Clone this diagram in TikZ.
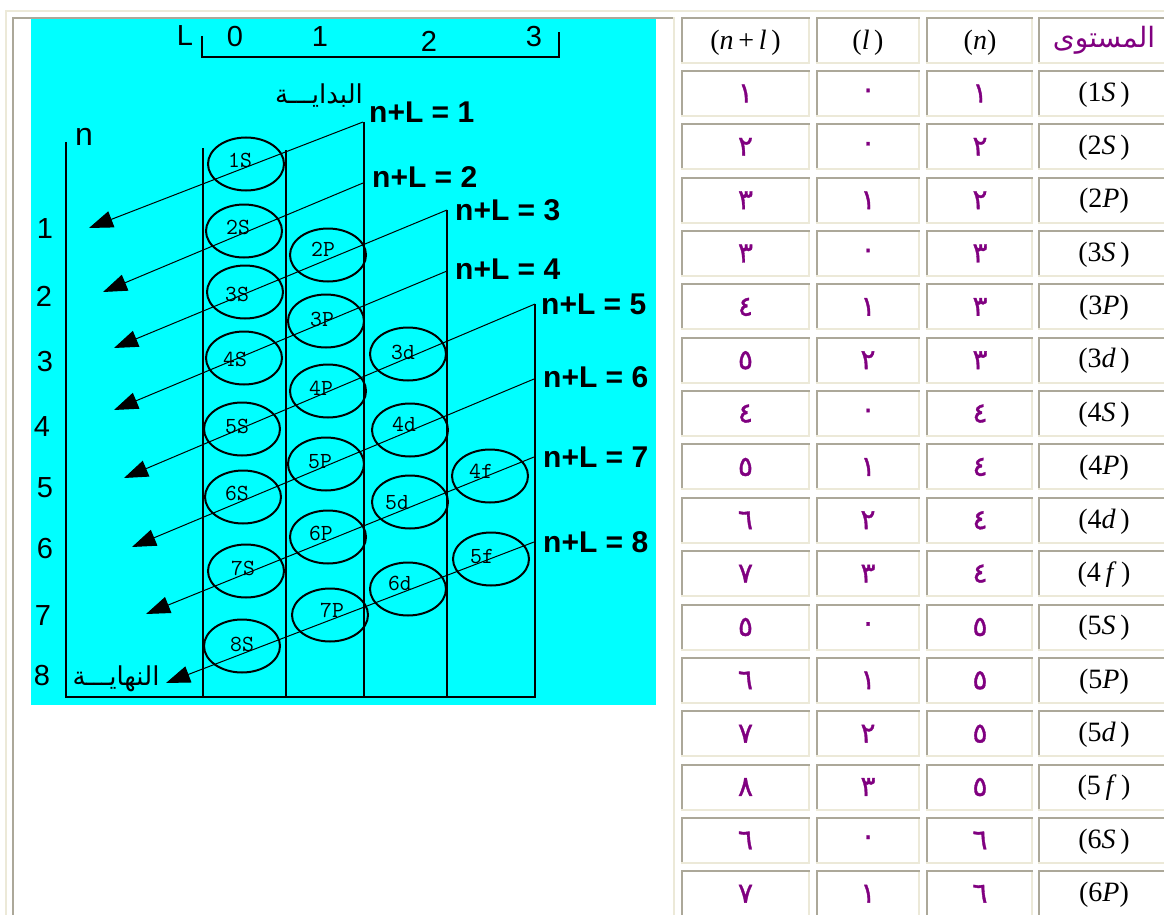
\documentclass[tikz,border=0pt]{standalone}
\usepackage{fontspec}
\setmainfont{Liberation Serif}
\newfontfamily\sansf{Liberation Sans}
\newfontfamily\arabicfont[Script=Arabic]{DejaVu Sans}
\newfontfamily\arabicdig[Script=Arabic,FakeBold=1.2]{DejaVu Sans}
\TeXXeTstate=1
\usetikzlibrary{shapes.geometric,arrows.meta}
\definecolor{cyanbg}{HTML}{00FFFF}
\definecolor{bgray}{HTML}{ACA899}
\definecolor{bbeige}{HTML}{ECE9D8}
\definecolor{purp}{HTML}{800080}
\begin{document}
\begin{tikzpicture}[x=1pt,y=-1pt,
  orb/.style={ellipse, draw, line width=2pt, minimum width=76pt, minimum height=53pt, inner sep=0pt},
  orbtxt/.style={font=\ttfamily\fontsize{23pt}{23pt}\selectfont, inner sep=0pt},
  colline/.style={line width=2pt},
  axislbl/.style={font=\sansf\fontsize{29pt}{29pt}\selectfont, inner sep=0pt},
  sumlbl/.style={font=\sansf\bfseries\fontsize{30pt}{30pt}\selectfont, inner sep=0pt, anchor=west},
  arabl/.style={font=\arabicfont\fontsize{26pt}{26pt}\selectfont, inner sep=0pt},
  arr/.style={line width=1pt, -{Triangle[length=24pt,width=17pt]}},
  lvl/.style={font=\rmfamily\fontsize{28pt}{28pt}\selectfont, inner sep=0pt},
  hdr/.style={font=\rmfamily\fontsize{28pt}{28pt}\selectfont, inner sep=0pt},
  adig/.style={font=\arabicdig\fontsize{28pt}{28pt}\selectfont, text=purp, inner sep=0pt},
  ahdr/.style={font=\arabicfont\fontsize{28pt}{28pt}\selectfont, text=purp, inner sep=0pt}
]
\useasboundingbox (0,0) rectangle (1164,915);
\clip (0,0) rectangle (1164,915);
\fill[white] (0,0) rectangle (1164,915);
% outer frame
\fill[bbeige] (5,10) rectangle (1164,12);
\fill[bbeige] (5,10) rectangle (7,915);
% left cell
\fill[bgray] (12,17) rectangle (675,19);
\fill[bgray] (12,17) rectangle (14,915);
\fill[bbeige] (673,17) rectangle (675,915);
% cyan picture
\fill[cyanbg] (31,19) rectangle (656,705);

% bracket on top
\draw[line width=1.7pt] (202,36) -- (202,57) -- (559,57) -- (559,32);
\node[axislbl] (Ltop) at (185,36) {L};
\node[axislbl] (l0) at (235,37) {0};
\node[axislbl] (l1) at (320,37) {1};
\node[axislbl] (l2) at (429,41) {2};
\node[axislbl] (l3) at (534,37) {3};
\node[axislbl, font=\sansf\fontsize{32pt}{32pt}\selectfont] (nlab) at (84,137) {n};
\node[axislbl] (k1) at (45,229) {1};
\node[axislbl] (k2) at (44,296) {2};
\node[axislbl] (k3) at (45,362) {3};
\node[axislbl] (k4) at (42,427) {4};
\node[axislbl] (k5) at (45,488) {5};
\node[axislbl] (k6) at (45,549) {6};
\node[axislbl] (k7) at (43,616) {7};
\node[axislbl] (k8) at (42,676) {8};

% column lines
\draw[colline] (66,142) -- (66,697) -- (535,697) -- (535,304);
\draw[colline] (203,148) -- (203,697);
\draw[colline] (285.5,150) -- (285.5,697);
\draw[colline] (363.5,122) -- (363.5,697);
\draw[colline] (447,210) -- (447,697);

% orbitals
\foreach \nm/\x/\y/\tx/\ty in {1S/246/164/240/160, 2S/244/231/238/227, 3S/245/292/237/294, 4S/244/358/235/359,
  5S/242/429/237/426, 6S/243/497/237/493, 7S/246/571/243/568, 8S/242/646/242/644,
  2P/328/255/323/249, 3P/326/321/322/319, 4P/328/391/321/388, 5P/326/464/320/462, 6P/328/537/321/533, 7P/330/615/332/610,
  3d/408/354/403/352, 4d/410/430/404/424, 5d/410/502/397/503, 6d/408/589/400/583,
  4f/490/476/481/471, 5f/491/559/482/557}{
  \node[orb] (o\nm) at (\x,\y) {};
  \node[orbtxt] (t\nm) at (\tx,\ty) {\nm};
}

% diagonal arrows
\coordinate (a1s) at (363,122); \coordinate (a1e) at (89,228);
\coordinate (a2s) at (363,183); \coordinate (a2e) at (103,292);
\coordinate (a3s) at (447,210); \coordinate (a3e) at (114,348);
\coordinate (a4s) at (447,271); \coordinate (a4e) at (114,410);
\coordinate (a5s) at (535,304); \coordinate (a5e) at (124,478);
\coordinate (a6s) at (534,379); \coordinate (a6e) at (132,547);
\coordinate (a7s) at (534,457); \coordinate (a7e) at (146,614);
\coordinate (a8s) at (534,542); \coordinate (a8e) at (166,683);
\foreach \k in {1,...,8}{ \draw[arr] (a\k s) -- (a\k e); }

% n+L labels
\node[sumlbl] (s1) at (369,112.5) {n+L = 1};
\node[sumlbl] (s2) at (372,177) {n+L = 2};
\node[sumlbl] (s3) at (455,210) {n+L = 3};
\node[sumlbl] (s4) at (455,269) {n+L = 4};
\node[sumlbl] (s5) at (541,304) {n+L = 5};
\node[sumlbl] (s6) at (543,377.5) {n+L = 6};
\node[sumlbl] (s7) at (543,457) {n+L = 7};
\node[sumlbl] (s8) at (543,542) {n+L = 8};

\node[arabl] (start) at (319,96) {\beginR البدايـــة\endR};
\node[arabl] (finish) at (116,679) {\beginR النهايـــة\endR};

% table cells
\foreach \xa/\xb in {681/810,816/920,926/1033,1038/1172}{
  \foreach \r in {0,...,16}{
    \pgfmathsetmacro{\ya}{\r==0 ? 17 : 70+53.35*(\r-1)}
    \pgfmathsetmacro{\yb}{\r==0 ? 64 : \ya+47}
    \fill[bgray] (\xa,\ya) rectangle (\xb,\ya+2);
    \fill[bgray] (\xa,\ya) rectangle (\xa+2,\yb);
    \fill[bbeige] (\xa,\yb-2) rectangle (\xb,\yb);
    \fill[bbeige] (\xb-2,\ya+2) rectangle (\xb,\yb);
  }
}
% header
\node[hdr] (h1) at (745.5,43) {(\textit{n}\,+\,\textit{l}\,)};
\node[hdr] (h2) at (868,43) {(\textit{l}\,)};
\node[hdr] (h3) at (980,43) {(\textit{n})};
\node[ahdr] (h4) at (1104,40) {\beginR المستوى\endR};
% rows
\foreach \lv/\nn/\ll/\ss [count=\i from 0] in {
{(1\textit{S}\,)}/١/٠/١,
{(2\textit{S}\,)}/٢/٠/٢,
{(2\textit{P})}/٢/١/٣,
{(3\textit{S}\,)}/٣/٠/٣,
{(3\textit{P})}/٣/١/٤,
{(3\textit{d}\,)}/٣/٢/٥,
{(4\textit{S}\,)}/٤/٠/٤,
{(4\textit{P})}/٤/١/٥,
{(4\textit{d}\,)}/٤/٢/٦,
{(4\,\textit{f}\,)}/٤/٣/٧,
{(5\textit{S}\,)}/٥/٠/٥,
{(5\textit{P})}/٥/١/٦,
{(5\textit{d}\,)}/٥/٢/٧,
{(5\,\textit{f}\,)}/٥/٣/٨,
{(6\textit{S}\,)}/٦/٠/٦,
{(6\textit{P})}/٦/١/٧}{
  \pgfmathsetmacro{\yc}{93.5+53.35*\i}
  \node[lvl] (lv\i) at (1104,\yc+1) {\lv};
  \node[adig] (nn\i) at (980,\yc) {\nn};
  \node[adig] (ll\i) at (868,\yc) {\ll};
  \node[adig] (ss\i) at (745.5,\yc) {\ss};
}
\end{tikzpicture}
\end{document}
